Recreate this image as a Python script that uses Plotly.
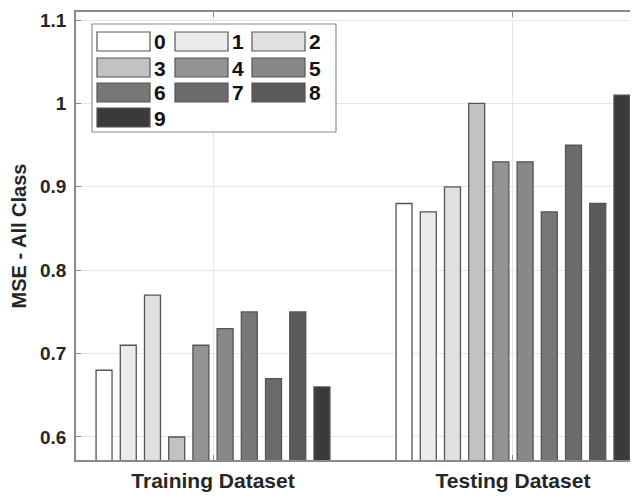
import plotly.graph_objects as go

# ---- data ----
groups = ["Training Dataset", "Testing Dataset"]
classes = ["0", "1", "2", "3", "4", "5", "6", "7", "8", "9"]
train_mse = [0.68, 0.71, 0.77, 0.60, 0.71, 0.73, 0.75, 0.67, 0.75, 0.66]
test_mse = [0.88, 0.87, 0.90, 1.00, 0.93, 0.93, 0.87, 0.95, 0.88, 1.01]
colors = ["#ffffff", "#ebebeb", "#e0e0e0", "#c2c2c2", "#939393",
          "#888888", "#777777", "#6b6b6b", "#5a5a5a", "#3a3a3a"]
y_ticks = [0.6, 0.7, 0.8, 0.9, 1.0, 1.1]

# ---- layout geometry (page pixels; the page body adds an 8px offset) ----
OFF = 8
W, H = 638 - OFF, 496 - OFF
PL, PR, PT, PB = 76, 638, 12, 460          # plot area in page pixels
ML, MR, MT, MB = PL - OFF, 0, PT - OFF, 496 - PB
PW, PH = PR - PL, PB - PT

def fx(px):
    return (px - PL) / PW

def fy(py):
    return (PB - py) / PH

FONT = "Liberation Sans, Arial, sans-serif"
TXT = "#262626"
AX = "#8a8a8a"
GRID = "#e6e6e6"

fig = go.Figure()
for i, c in enumerate(classes):
    fig.add_trace(go.Bar(
        x=groups, y=[train_mse[i], test_mse[i]], name=c,
        marker=dict(color=colors[i], line=dict(color="#555555", width=1.3)),
        showlegend=False,
    ))

# manual legend (MATLAB style wide swatches)
shapes = [dict(type="rect", xref="paper", yref="paper",
               x0=fx(92), x1=fx(336), y0=fy(24), y1=fy(132),
               line=dict(color="#8c8c8c", width=1.2), fillcolor="white", layer="above")]
annotations = []
col_left = [97, 175, 252]
row_top = [32, 58, 83, 108]
for i, c in enumerate(classes):
    r, k = divmod(i, 3)
    x0, y0 = col_left[k], row_top[r]
    shapes.append(dict(type="rect", xref="paper", yref="paper",
                       x0=fx(x0), x1=fx(x0 + 53), y0=fy(y0), y1=fy(y0 + 19),
                       line=dict(color="#555555", width=1.2), fillcolor=colors[i],
                       layer="above"))
    annotations.append(dict(xref="paper", yref="paper", x=fx(x0 + 55), y=fy(y0 + 10),
                            text="<b>%s</b>" % c, showarrow=False,
                            xanchor="left", yanchor="middle",
                            font=dict(family=FONT, size=21, color="#111111")))

fig.update_layout(
    width=W, height=H,
    margin=dict(l=ML, r=MR, t=MT, b=MB, autoexpand=False),
    paper_bgcolor="white", plot_bgcolor="white",
    barmode="group", bargap=0.193, bargroupgap=0.34,
    shapes=shapes, annotations=annotations,
    font=dict(family=FONT, color=TXT),
)
fig.update_xaxes(
    type="category", range=[-0.4567, 1.4167],
    showline=True, linecolor=AX, linewidth=1.5, mirror="ticks",
    ticks="inside", ticklen=5, tickcolor=AX, tickwidth=1,
    showgrid=True, gridcolor=GRID, gridwidth=1,
    tickfont=dict(family=FONT, size=21, color=TXT),
    ticklabelstandoff=1,
    tickvals=groups, ticktext=["<b>%s</b>" % g for g in groups],
)
fig.update_yaxes(
    range=[0.5724, 1.1096],
    showline=True, linecolor=AX, linewidth=1.5,
    ticks="inside", ticklen=5, tickcolor=AX, tickwidth=1,
    showgrid=True, gridcolor=GRID, gridwidth=1, zeroline=False,
    tickvals=y_ticks, ticktext=["<b>%g</b>" % v for v in y_ticks],
    tickfont=dict(family=FONT, size=19, color=TXT),
    ticklabelstandoff=4,
    title=dict(text="<b>MSE - All Class</b>", font=dict(family=FONT, size=20, color=TXT),
               standoff=14),
)

fig.write_html("out.html")
